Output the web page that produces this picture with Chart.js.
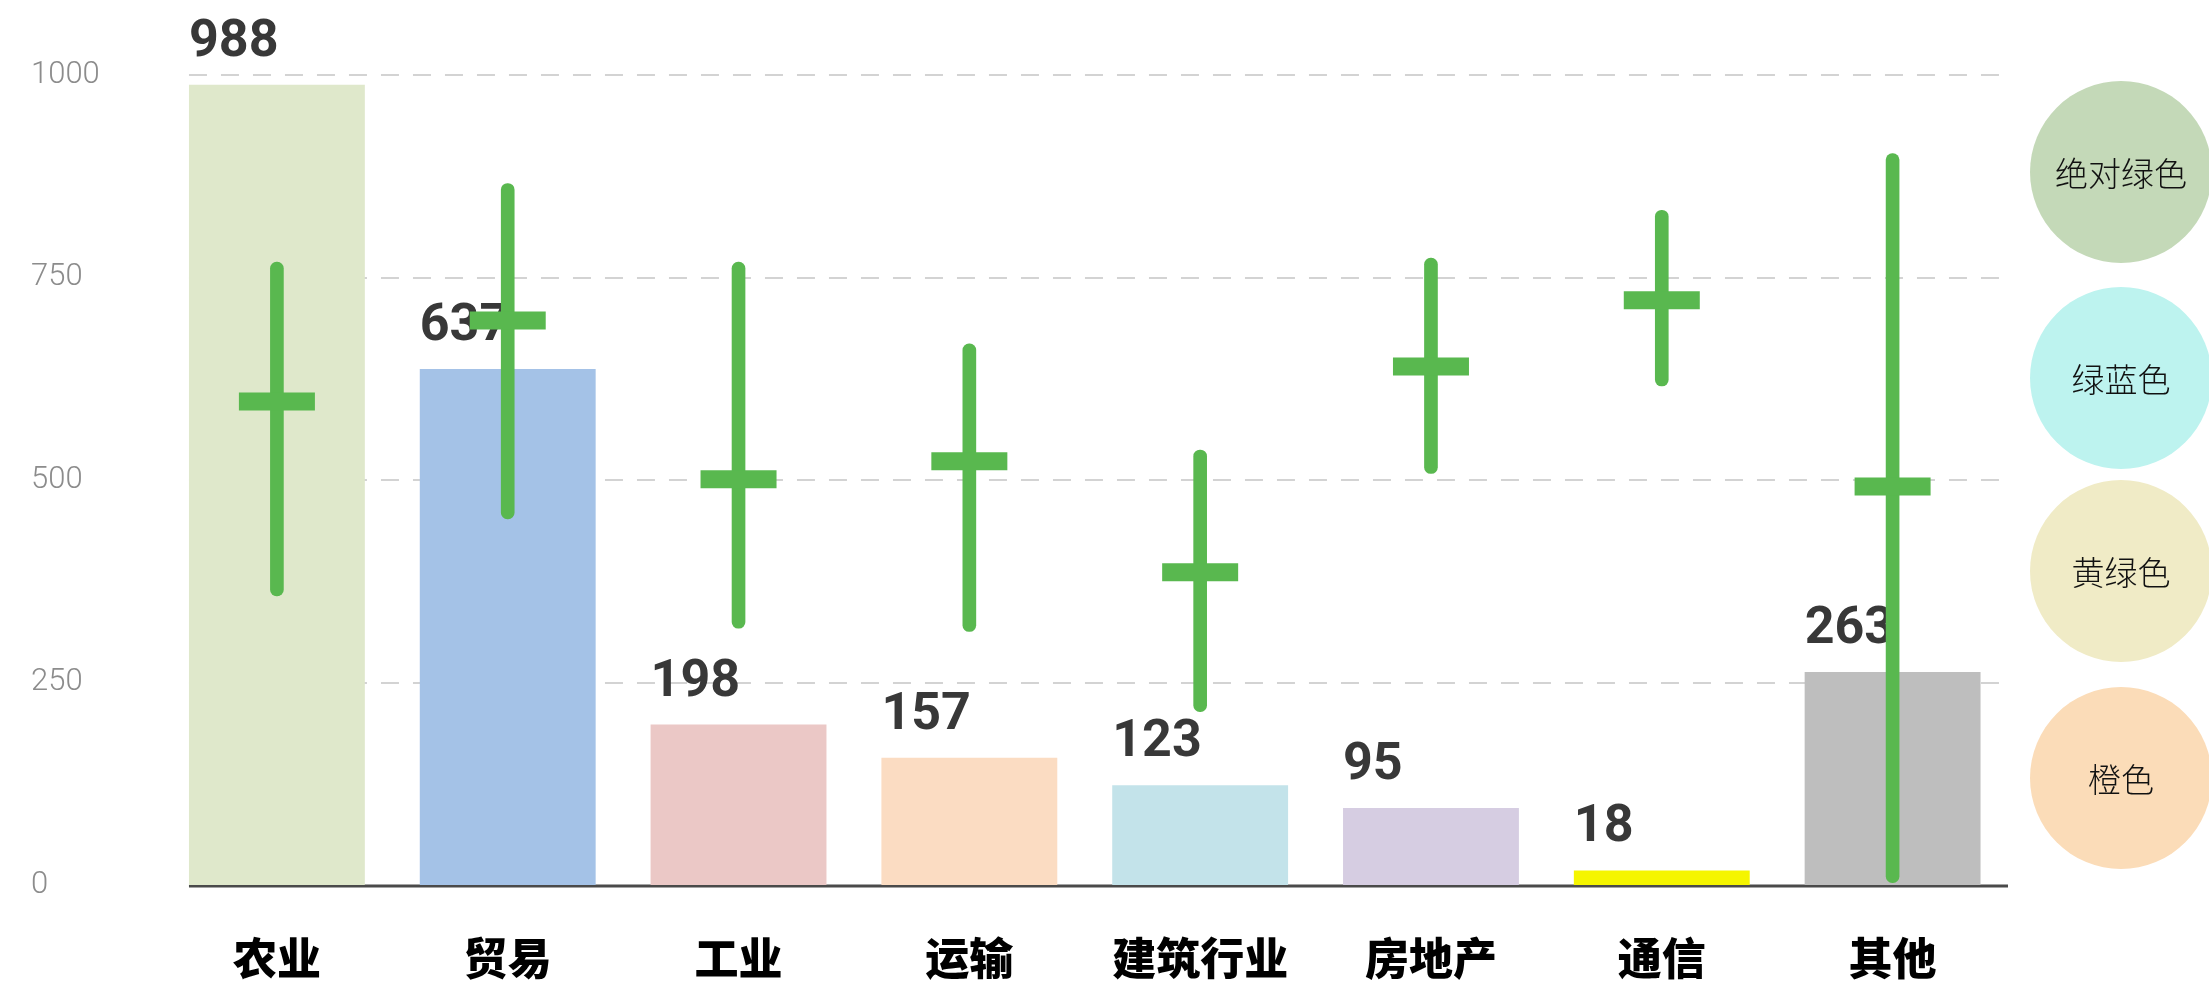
<!DOCTYPE html>
<html lang="zh-CN">
<head>
<meta charset="utf-8">
<title>各行业数值与区间</title>
<script src="https://cdn.jsdelivr.net/npm/chart.js@4.4.1/dist/chart.umd.min.js"></script>
<style>
  html, body { margin: 0; padding: 0; background: #fff; }
  #wrap { position: relative; width: 2209px; height: 985px; overflow: hidden; }
  #chart { position: absolute; left: 0; top: 0; }
  .swatch {
    position: absolute; left: 2030px; width: 182px; height: 182px; border-radius: 50%;
    display: flex; align-items: center; justify-content: center;
    font-family: "Noto Sans CJK SC", sans-serif; font-weight: 300; font-size: 33px; color: #111;
  }
  .swatch:nth-child(1) { top: 81px; }
  .swatch:nth-child(2) { top: 287px; }
  .swatch:nth-child(3) { top: 480px; }
  .swatch:nth-child(4) { top: 687px; }
</style>
</head>
<body>
<div id="wrap">
  <canvas id="chart" width="2209" height="985"></canvas>
  <div id="swatches"></div>
</div>
<script>
// Categories and their headline values
const categories = ['农业', '贸易', '工业', '运输', '建筑行业', '房地产', '通信', '其他'];
const values = [988, 637, 198, 157, 123, 95, 18, 263];
const barColors = ['#dfe8cb', '#a4c2e7', '#ebc8c6', '#fbdcc2', '#c3e3ea', '#d6cde2', '#f5f500', '#bebebe'];

// Range (low / high) and midpoint for each category
const rangeLow = [357, 452, 317, 313, 214, 508, 616, 3];
const rangeHigh = [769, 866, 769, 668, 537, 774, 833, 903];
const rangeMid = [597, 697, 501, 523, 386, 640, 722, 492];

// Value axis ticks
const yTicks = [0, 250, 500, 750, 1000];

// Colour swatches on the right
const swatchLabels = ['绝对绿色', '绿蓝色', '黄绿色', '橙色'];
const swatchColors = ['#c4d9b8', '#bdf3ef', '#f0ebc6', '#fbdcb8'];

const GREEN = '#59b84f';

// swatch circles
const holder = document.getElementById('swatches');
swatchLabels.forEach((txt, i) => {
  const d = document.createElement('div');
  d.className = 'swatch';
  d.style.background = swatchColors[i];
  d.textContent = txt;
  holder.appendChild(d);
});

// dashed grid + baseline, starting at the left edge of the first bar
const gridPlugin = {
  id: 'dashGrid',
  beforeDatasetsDraw(chart) {
    const { ctx, chartArea, scales } = chart;
    const meta = chart.getDatasetMeta(2);
    const first = meta.data[0];
    const left = first.x - first.width / 2;
    ctx.save();
    ctx.lineWidth = 2;
    ctx.strokeStyle = '#d3d3d3';
    ctx.setLineDash([18, 14]);
    yTicks.forEach(v => {
      if (v === 0) return;
      const y = Math.round(scales.y.getPixelForValue(v));
      ctx.beginPath();
      ctx.moveTo(left, y);
      ctx.lineTo(chartArea.right, y);
      ctx.stroke();
    });
    ctx.setLineDash([]);
    ctx.lineWidth = 3;
    ctx.strokeStyle = '#4a4a4a';
    const y0 = scales.y.getPixelForValue(0) + 1;
    ctx.beginPath();
    ctx.moveTo(left, y0);
    ctx.lineTo(chartArea.right, y0);
    ctx.stroke();
    ctx.restore();
  }
};

// value labels sitting above each bar, aligned to the bar's left edge
const valueLabelPlugin = {
  id: 'valueLabels',
  afterDatasetDraw(chart, args) {
    if (args.index !== 2) return;
    const { ctx } = chart;
    ctx.save();
    ctx.font = 'bold 52px Roboto, "Liberation Sans", sans-serif';
    ctx.fillStyle = '#383838';
    ctx.textAlign = 'left';
    ctx.textBaseline = 'alphabetic';
    args.meta.data.forEach((el, i) => {
      ctx.fillText(String(values[i]), el.x - el.width / 2, el.y - 29);
    });
    ctx.restore();
  }
};

new Chart(document.getElementById('chart'), {
  data: {
    labels: categories,
    datasets: [
      {
        type: 'line',
        label: '中值',
        data: rangeMid,
        showLine: false,
        pointStyle: 'line',
        pointRadius: 38,
        pointHoverRadius: 38,
        pointBorderWidth: 18,
        pointHoverBorderWidth: 18,
        borderColor: GREEN,
        backgroundColor: GREEN,
        order: 0
      },
      {
        type: 'bar',
        label: '区间',
        data: rangeLow.map((lo, i) => [lo, rangeHigh[i]]),
        backgroundColor: GREEN,
        barThickness: 13,
        borderRadius: 6.5,
        borderSkipped: false,
        grouped: false,
        order: 1
      },
      {
        type: 'bar',
        label: '数值',
        data: values,
        backgroundColor: barColors,
        categoryPercentage: 1,
        barPercentage: 0.762,
        grouped: false,
        order: 2
      }
    ]
  },
  options: {
    responsive: false,
    animation: false,
    devicePixelRatio: 1,
    layout: { padding: { left: 31, right: 201, top: 75, bottom: 0 } },
    plugins: { legend: { display: false }, tooltip: { enabled: false } },
    scales: {
      x: {
        type: 'category',
        offset: true,
        grid: { display: false, drawTicks: false },
        border: { display: false },
        ticks: {
          padding: 47,
          color: '#000',
          font: { family: '"Noto Sans CJK SC", sans-serif', size: 44, weight: '900' }
        },
        afterFit(scale) { scale.height = 100; }
      },
      y: {
        min: 0,
        max: 1000,
        grid: { display: false, drawTicks: false },
        border: { display: false },
        afterBuildTicks(scale) { scale.ticks = yTicks.map(v => ({ value: v })); },
        ticks: {
          crossAlign: 'far',
          color: '#8c8c8c',
          font: { family: 'Roboto, "Liberation Sans", sans-serif', size: 31, weight: '300' },
          callback: (v) => String(v)
        },
        afterFit(scale) { scale.width = 130.5; }
      }
    }
  },
  plugins: [gridPlugin, valueLabelPlugin]
});
</script>
</body>
</html>
